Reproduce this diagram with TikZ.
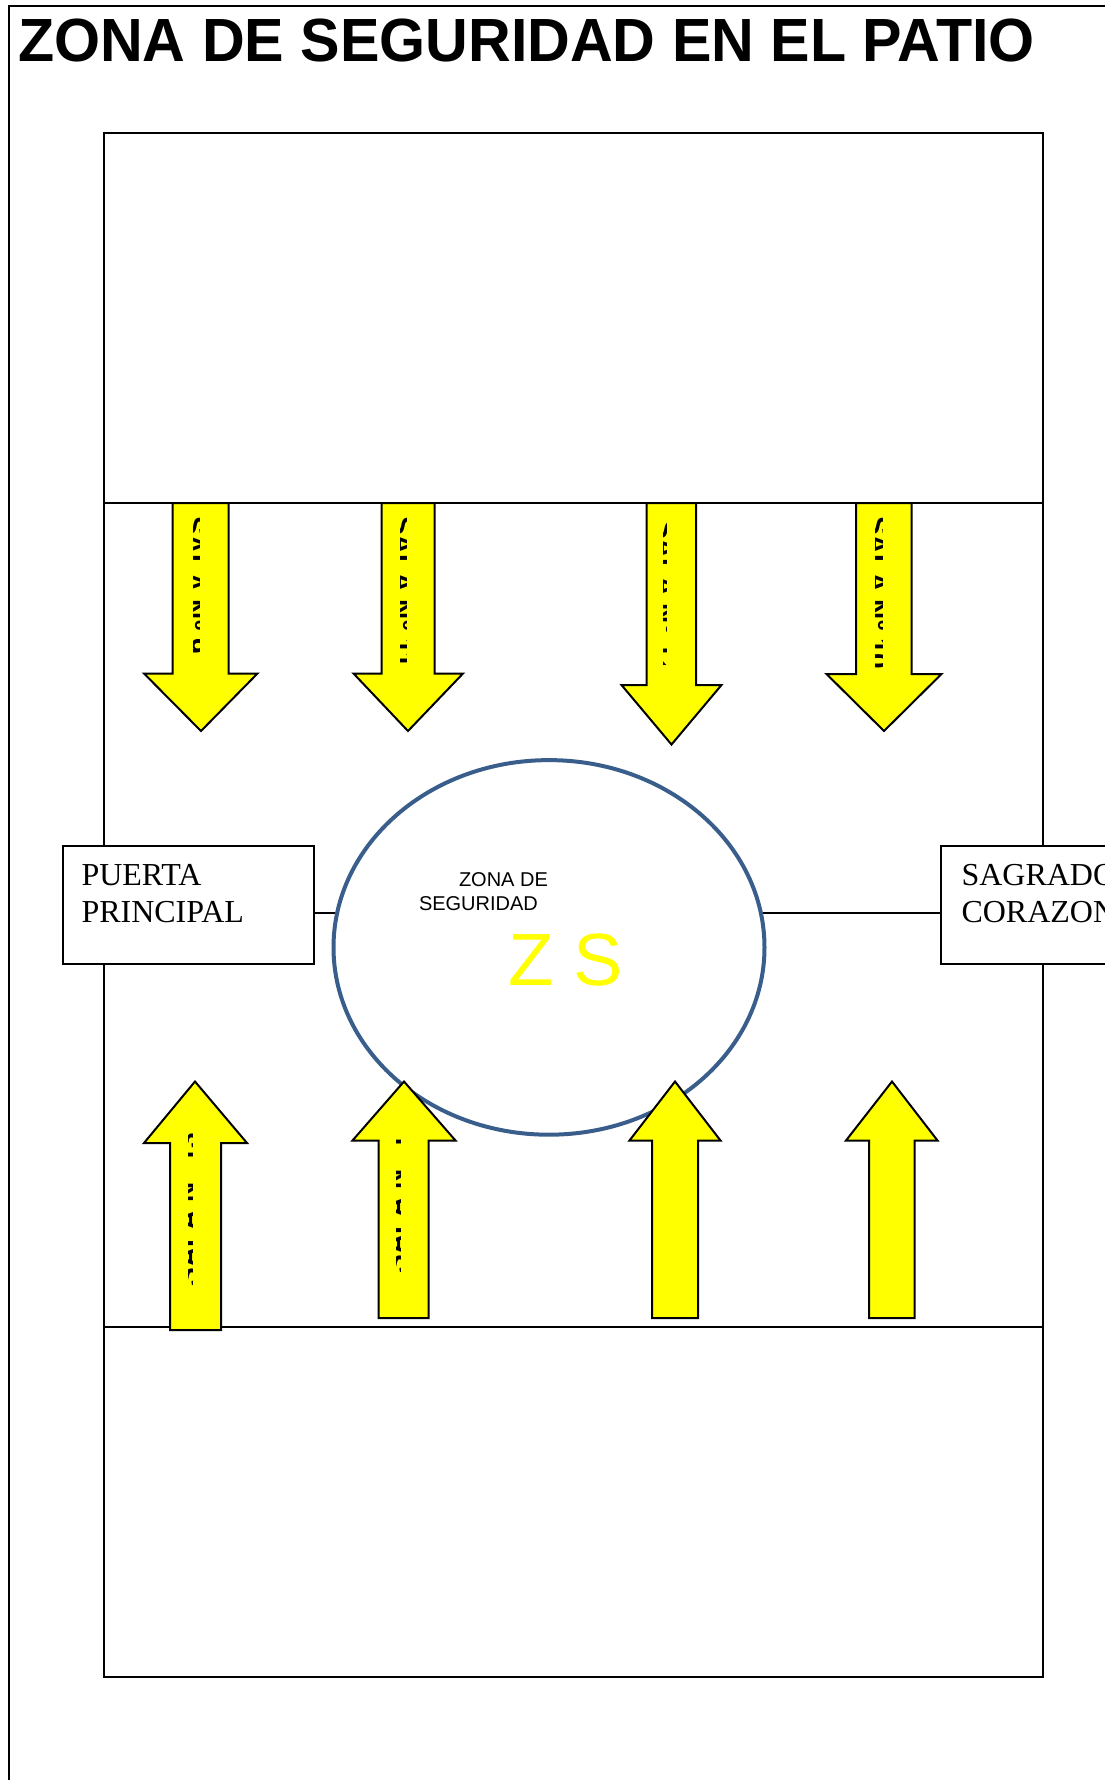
\documentclass[tikz,border=0pt]{standalone}
\usepackage{fontspec}
\usetikzlibrary{shapes.geometric}
\newfontfamily\arialf{Liberation Sans}
\newfontfamily\timesf{Liberation Serif}
\definecolor{zsblue}{RGB}{58,94,140}
\definecolor{zsyellow}{RGB}{255,255,0}
\newcommand\arrowlabel[8]{% name, clip left, clip right, clip top, clip bottom, anchor point, rotation, text
  \begin{scope}
    \clip (#2,#4) rectangle (#3,#5);
    \node[lbl,rotate=#7] (#1) at (#6) {#8};
  \end{scope}}
\begin{document}
\begin{tikzpicture}[x=1pt,y=-1pt,
  frameline/.style={draw=black,line width=2pt},
  boxstyle/.style={draw=black,line width=2pt,fill=white,inner sep=0pt,anchor=north west},
  yarrow/.style={draw=black,fill=zsyellow,line width=2pt,line join=miter},
  txt/.style={inner sep=0pt,outer sep=0pt,anchor=base west},
  lbl/.style={inner sep=0pt,outer sep=0pt,anchor=base west,font=\arialf\bfseries\fontsize{28}{28}\selectfont}]
\useasboundingbox (0,0) rectangle (1104,1780);
% outer frame (extends beyond the page)
\draw[frameline] (9,1790) -- (9,6) -- (1120,6);
% title
\node[txt,font=\arialf\bfseries\fontsize{61}{61}\selectfont] (title) at (18,61)
  {\scalebox{0.97}[1]{ZONA DE SEGURIDAD EN EL PATIO}};
% patio
\draw[frameline] (104,133) rectangle (1042.7,1677);
\coordinate (l1) at (104,503);   \coordinate (r1) at (1042.7,503);
\coordinate (l2) at (104,1326.5); \coordinate (r2) at (1042.7,1326.5);
\draw[frameline] (l1) -- (r1);
\draw[frameline] (l2) -- (r2);
% doors
\node[boxstyle,minimum width=251pt,minimum height=118pt] (puerta) at (61.5,845) {};
\node[boxstyle,minimum width=260pt,minimum height=118pt] (sagrado) at (940,845) {};
\node[txt,font=\timesf\fontsize{32}{32}\selectfont] (p1) at (81.5,885) {PUERTA};
\node[txt,font=\timesf\fontsize{32}{32}\selectfont] (p2) at (81.5,922.5) {PRINCIPAL};
\node[txt,font=\timesf\fontsize{32}{32}\selectfont] (s1) at (961.5,885) {SAGRADO};
\node[txt,font=\timesf\fontsize{32}{32}\selectfont] (s2) at (961.5,922.5) {CORAZON};
\draw[line width=2pt] ([yshift=-8pt]puerta.east) -- ([yshift=-8pt]sagrado.west);
% safety zone
\node[ellipse,draw=zsblue,line width=4pt,fill=white,inner sep=0pt,
      minimum width=431pt,minimum height=374.6pt] (zs) at (549,947.4) {};
\node[txt,font=\arialf\fontsize{20}{20}\selectfont] (zt1) at (459,886) {ZONA DE};
\node[txt,font=\arialf\fontsize{20}{20}\selectfont] (zt2) at (419,910.7) {SEGURIDAD};
\node[txt,font=\arialf\fontsize{74}{74}\selectfont,text=zsyellow] (zsl) at (508,985) {Z S};
% top arrows (pointing down)
\draw[yarrow] (172.5,503) -- (228.5,503) -- (228.5,673.5) -- (257.5,673.5) -- (201,731) -- (144,673.5) -- (172.5,673.5) -- cycle;
\draw[yarrow] (381.5,503) -- (434.5,503) -- (434.5,673.5) -- (463,673.5) -- (408,731) -- (353.5,673.5) -- (381.5,673.5) -- cycle;
\draw[yarrow] (646.5,503) -- (696,503) -- (696,685) -- (721.5,685) -- (671.5,744.5) -- (621.5,685) -- (646.5,685) -- cycle;
\draw[yarrow] (856,503) -- (911.5,503) -- (911.5,674) -- (941.5,674) -- (884,731) -- (826.5,674) -- (856,674) -- cycle;
% bottom arrows (pointing up)
\draw[yarrow] (195,1081.5) -- (247,1143) -- (221,1143) -- (221,1330) -- (170,1330) -- (170,1143) -- (144,1143) -- cycle;
\draw[yarrow] (404,1081.5) -- (455.5,1140.5) -- (428.5,1140.5) -- (428.5,1318) -- (378.5,1318) -- (378.5,1140.5) -- (352.5,1140.5) -- cycle;
\draw[yarrow] (675,1081.5) -- (720.5,1140.5) -- (698,1140.5) -- (698,1318) -- (652,1318) -- (652,1140.5) -- (629.5,1140.5) -- cycle;
\draw[yarrow] (892,1081.5) -- (937.5,1140.5) -- (914.5,1140.5) -- (914.5,1318) -- (869,1318) -- (869,1140.5) -- (846,1140.5) -- cycle;
% clipped vertical labels inside the arrows
\arrowlabel{a1}{193}{199}{510}{668}{185,516}{-90}{SALA Nº 9}
\arrowlabel{a2}{400.5}{406}{510}{676}{393,516}{-90}{SALA Nº 11}
\arrowlabel{a3}{663.5}{666.5}{510}{664}{656,520}{-90}{SALA Nº 12}
\arrowlabel{a4}{875}{882}{510}{682}{868,516}{-90}{SALA Nº 10}
\arrowlabel{b1}{188}{192}{1122}{1290}{197,1286}{90}{SALA Nº 13}
\arrowlabel{b2}{396}{400.5}{1122}{1276}{405,1273}{90}{SALA Nº 1}
\end{tikzpicture}
\end{document}
